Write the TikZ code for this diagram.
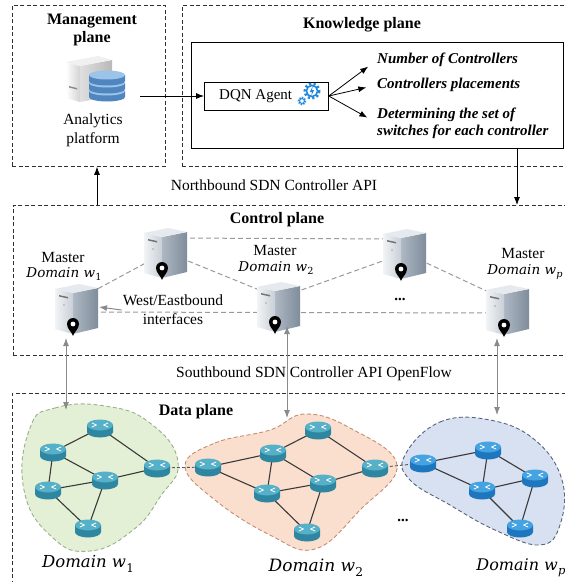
\documentclass[tikz,border=0pt]{standalone}
\usepackage{fontspec}
\usepackage{graphicx}
\setmainfont{Liberation Serif}
\newfontfamily\domfont{DejaVu Serif}
\usetikzlibrary{arrows.meta}

\definecolor{planeline}{HTML}{303030}
\definecolor{linkgray}{HTML}{9A9A9A}
\definecolor{arrgray}{HTML}{8A8A8A}
\definecolor{greenfill}{HTML}{E4F0D6}
\definecolor{greenline}{HTML}{9BB08A}
\definecolor{orangefill}{HTML}{FADFCF}
\definecolor{orangeline}{HTML}{C48E70}
\definecolor{bluefill}{HTML}{D8E1F1}
\definecolor{blueline}{HTML}{5A6478}
\definecolor{tealtop}{HTML}{56B0C8}
\definecolor{tealbody}{HTML}{2F86A0}
\definecolor{bluetop}{HTML}{45A3E2}
\definecolor{bluebody}{HTML}{1E77BE}
\definecolor{gearblue}{HTML}{2288DD}
\definecolor{dbtop}{HTML}{9CC3E8}
\definecolor{dbbody}{HTML}{4F86C0}
\definecolor{srvsideL}{HTML}{AEB8C4}
\definecolor{srvsideR}{HTML}{7F8C9A}
\definecolor{srvfrontL}{HTML}{F2F4F6}
\definecolor{srvfrontR}{HTML}{C8CFD6}
\definecolor{srvtop}{HTML}{E6EAEE}
\definecolor{rlinkc}{HTML}{3A3A3A}

% italic domain label with a small subscript
\newcommand{\dom}[2]{{\fontsize{#1}{#1}\selectfont\domfont\itshape Domain w\kern0.3pt\raisebox{-0.28em}{\scalebox{0.72}{#2}}}}

\tikzset{
  pics/router/.style 2 args={code={
    \fill[#2] (-13,-3) -- (-13,4) arc[start angle=180,end angle=0,x radius=13,y radius=5.5] -- (13,-3) -- cycle;
    \fill[#1] (0,-3) ellipse[x radius=13,y radius=5.5];
    \draw[white, line width=0.8pt, line cap=round, line join=round]
      (-8,-5) -- (-3.5,-3) -- (-8,-1) (8,-5) -- (3.5,-3) -- (8,-1);
  }},
  pics/server/.style={code={
    \shade[left color=srvsideL, right color=srvsideR] (-4,-15) -- (21,-20) -- (21,20) -- (-4,26) -- cycle;
    \shade[left color=srvfrontL, right color=srvfrontR] (-22,-19) -- (-4,-15) -- (-4,26) -- (-22,21) -- cycle;
    \fill[srvtop] (-22,-19) -- (2,-24) -- (21,-20) -- (-4,-15) -- cycle;
    \fill[black!55] (-18,-13) -- (-9,-11) -- (-9,-9.5) -- (-18,-11.5) -- cycle;
    \fill[black!35] (-13,-3) circle (0.8);
    \fill[black] (-4,28) .. controls (-5,24) and (-10,21) .. (-10,16)
      arc[start angle=180,end angle=360,radius=6] .. controls (2,21) and (-3,24) .. (-4,28) -- cycle;
    \fill[white] (-4,16) circle (2.4);
  }}
}

\begin{document}
\begin{tikzpicture}[x=1pt,y=-1pt,
  plane/.style={draw=planeline, line width=0.8pt, dash pattern=on 4pt off 2.5pt, inner sep=0pt},
  title/.style={font=\fontsize{16}{18}\selectfont\bfseries, inner sep=1pt},
  lbl/.style={font=\fontsize{15.5}{19}\selectfont, inner sep=1pt},
  outtxt/.style={font=\fontsize{15}{17}\selectfont\bfseries\itshape, anchor=west, align=left, inner sep=0pt},
  arr/.style={-{Latex[length=8pt,width=6pt]}, line width=0.8pt},
  link/.style={draw=linkgray, line width=1pt, dash pattern=on 5pt off 3pt},
  garr/.style={draw=arrgray, line width=1pt, {Latex[length=8pt,width=6pt]}-{Latex[length=8pt,width=6pt]}},
  garrone/.style={draw=arrgray, line width=1pt, -{Latex[length=8pt,width=6pt]}},
  rlink/.style={draw=rlinkc, line width=1.1pt},
  dlink/.style={draw=black!65, line width=0.9pt, dash pattern=on 3pt off 2pt}]

\useasboundingbox (0,0) rectangle (565,582);
\clip (0,0) rectangle (565,582);
\fill[white] (0,0) rectangle (565,582);

% ---------- planes ----------
\node[plane, minimum width=153, minimum height=161, anchor=north west] (mplane) at (12,5) {};
\node[plane, minimum width=390, minimum height=161, anchor=north west] (kplane) at (182,5) {};
\node[draw, line width=0.8pt, minimum width=372, minimum height=106, anchor=north west, inner sep=0pt] (kbox) at (191,42) {};
\node[plane, minimum width=560, minimum height=150, anchor=north west] (cplane) at (13,205) {};
\node[plane, minimum width=560, minimum height=220, anchor=north west] (dplane) at (12,393) {};

% ---------- management plane ----------
\node[title, align=center] (mtitle) at (92,30) {Management\\plane};
\node[lbl, align=center] (mlabel) at (93,130) {Analytics\\platform};
% analytics server with database stack
\shade[left color=white, right color=gray!35] (66,62) -- (80,66) -- (80,102) -- (66,98) -- cycle;
\shade[left color=gray!25, right color=gray!55] (80,66) -- (112,60) -- (112,96) -- (80,102) -- cycle;
\fill[gray!12] (66,62) -- (98,56) -- (112,60) -- (80,66) -- cycle;
\fill[black!45] (69,86) -- (77,88) -- (77,89.5) -- (69,87.5) -- cycle;
\foreach \yy in {91,83,75}{
  \fill[dbbody] (89,\yy) -- (89,\yy+6) arc[start angle=180,end angle=0,x radius=18,y radius=4.5] -- (125,\yy) -- cycle;
  \fill[dbtop] (107,\yy) ellipse[x radius=18,y radius=4.5];
}

% ---------- knowledge plane ----------
\node[title] (ktitle) at (362,25) {Knowledge plane};
\node[draw, line width=0.8pt, minimum width=124, minimum height=28, anchor=west, inner sep=0pt] (dqn) at (204,96) {};
\node[font=\fontsize{15}{17}\selectfont, anchor=west, inner sep=0pt] (dqntext) at (219,96) {DQN Agent};
% agent gear
\begin{scope}[shift={(312,91)}]
  \draw[gearblue, line width=2.6pt, dash pattern=on 2.2pt off 2.2pt] (0,0) circle (7.2);
  \draw[gearblue, line width=1.6pt] (0,0) circle (5.6);
  \fill[gearblue] (0.8,-5) -- (-2.2,1) -- (0,1) -- (-0.8,5) -- (2.2,-1) -- (0,-1) -- cycle;
\end{scope}
\begin{scope}[shift={(302,101)}]
  \draw[gearblue, line width=1.8pt, dash pattern=on 1.3pt off 1.3pt] (0,0) circle (3.4);
  \draw[gearblue, line width=1pt] (0,0) circle (2.4);
\end{scope}

\node[outtxt] (o1) at (377,60) {Number of Controllers};
\node[outtxt] (o2) at (377,85) {Controllers placements};
\node[outtxt] (o3) at (377,123) {Determining the set of\\switches for each controller};
\draw[arr, shorten >=11pt] (dqn.east) -- (o1.west);
\draw[arr, shorten >=11pt] (dqn.east) -- (o2.west);
\draw[arr, shorten >=11pt] (dqn.east) -- (o3.west);

\coordinate (mout) at (140,96);
\draw[arr] (mout) -- (dqn.west);

% ---------- northbound ----------
\node[lbl] (nb) at (274,185) {Northbound SDN Controller API};
\coordinate (nbx) at (517,0);
\coordinate (upx) at (97,0);
\draw[arr] (kbox.south -| nbx) -- (cplane.north -| nbx);
\draw[arr] (cplane.north -| upx) -- (mplane.south -| upx);

% ---------- control plane ----------
\node[title] (ctitle) at (277,220) {Control plane};

\coordinate (s1) at (77,308);
\coordinate (sb1) at (166,252);
\coordinate (s2) at (279,306);
\coordinate (sb2) at (405,253);
\coordinate (sp) at (508,309);

\draw[link] ([yshift=14pt]sb1) -- ([yshift=14pt]sb2);
\draw[link] ([yshift=8pt]s1) -- (sb1);
\draw[link] (sb1) -- ([yshift=8pt]s2);
\draw[link] ([yshift=8pt]s2) -- (sb2);
\draw[link] (sb2) -- ([yshift=8pt]sp);
\draw[link] ([yshift=-4pt]s1) -- ([yshift=-4pt]sp);

\pic at (sb1) {server};
\pic at (sb2) {server};
\pic at (s1) {server};
\pic at (s2) {server};
\pic at (sp) {server};

\node[lbl] (m1) at (63,257) {Master};
\node[inner sep=0pt] (d1l) at (64,274) {\dom{13.5}{\upshape 1}};
\node[lbl] (m2) at (275,250) {Master};
\node[inner sep=0pt] (d2l) at (276,268) {\dom{13.5}{\upshape 2}};
\node[lbl] (mp) at (523,253) {Master};
\node[inner sep=0pt] (dpl) at (525,272) {\dom{13.5}{p}};

\node[lbl, align=center] (we) at (173,310) {West/Eastbound\\interfaces};
\coordinate (s1r) at (99,307);
\draw[garrone] (we.west) -- (s1r);
\node[font=\fontsize{15}{17}\selectfont\bfseries] (cdots) at (400,299) {...};

% ---------- southbound ----------
\node[lbl] (sb) at (314,374) {Southbound SDN Controller API OpenFlow};

% ---------- data plane ----------
\node[title] (dtitle) at (196,412) {Data plane};

\draw[greenline, fill=greenfill, line width=0.9pt, dash pattern=on 4pt off 2.5pt]
  plot[smooth cycle, tension=0.8] coordinates {(30,428) (55,408) (105,406) (150,423) (178,462) (160,497) (133,530) (90,551) (52,537) (24,490)};
\draw[orangeline, fill=orangefill, line width=0.9pt, dash pattern=on 4pt off 2.5pt]
  plot[smooth cycle, tension=0.7] coordinates {(185,466) (215,443) (270,430) (305,414) (350,428) (397,465) (360,510) (315,549) (270,535) (215,500)};
\draw[blueline, fill=bluefill, line width=0.9pt, dash pattern=on 4pt off 2.5pt]
  plot[smooth cycle, tension=0.7] coordinates {(405,455) (440,422) (490,420) (535,440) (562,480) (560,525) (540,545) (495,530) (450,505) (410,480)};

% routers
\coordinate (g1) at (100,428);
\coordinate (g2) at (53,452);
\coordinate (g3) at (157,468);
\coordinate (g4) at (105,480);
\coordinate (g5) at (48,490);
\coordinate (g6) at (88,528);
\coordinate (r1) at (208,467);
\coordinate (r2) at (273,453);
\coordinate (r3) at (318,430);
\coordinate (r4) at (267,493);
\coordinate (r5) at (323,483);
\coordinate (r6) at (375,468);
\coordinate (r7) at (307,532);
\coordinate (b1) at (423,463);
\coordinate (b2) at (488,450);
\coordinate (b3) at (482,490);
\coordinate (b4) at (535,478);
\coordinate (b5) at (520,528);

\foreach \a/\b in {g2/g1, g1/g3, g2/g4, g2/g5, g4/g3, g5/g4, g5/g6, g4/g6,
                   r1/r2, r1/r4, r2/r3, r2/r4, r2/r5, r3/r6, r4/r5, r5/r6, r4/r7, r5/r7,
                   b1/b2, b1/b3, b2/b3, b2/b4, b3/b4, b3/b5, b4/b5}
  \draw[rlink] (\a) -- (\b);
\draw[dlink] (g3) -- (r1);
\draw[dlink] (r6) -- (b1);

\foreach \n in {g1,g2,g3,g4,g5,g6,r1,r2,r3,r4,r5,r6,r7}
  \pic at (\n) {router={tealtop}{tealbody}};
\foreach \n in {b1,b2,b3,b4,b5}
  \pic at (\n) {router={bluetop}{bluebody}};

\node[font=\fontsize{15}{17}\selectfont\bfseries] (ddots) at (403,520) {...};

\node[inner sep=0pt] (dom1) at (88,564) {\dom{16.5}{\upshape 1}};
\node[inner sep=0pt] (dom2) at (316,568) {\dom{17}{\upshape 2}};
\node[inner sep=0pt] (domp) at (521,568) {\dom{16}{p}};

% ---------- southbound links ----------
\coordinate (u1) at (66,338);
\coordinate (v1) at (66,410);
\coordinate (u2) at (287,326);
\coordinate (v2) at (287,418);
\coordinate (u3) at (497,338);
\coordinate (v3) at (497,415);
\draw[garr] (u1) -- (v1);
\draw[garr] (u2) -- (v2);
\draw[garr] (u3) -- (v3);

\end{tikzpicture}
\end{document}
